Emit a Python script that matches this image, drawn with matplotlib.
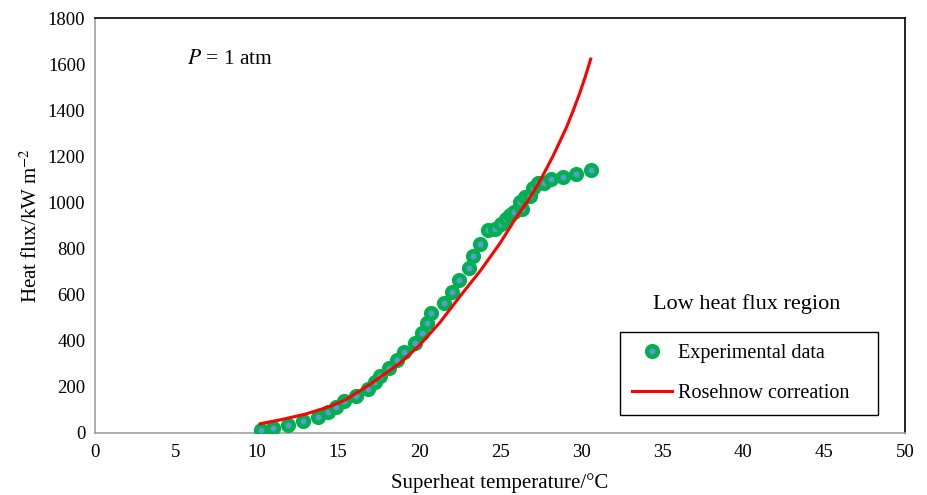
import matplotlib
matplotlib.use("Agg")
import matplotlib.pyplot as plt
from matplotlib.lines import Line2D

plt.rcParams['font.family'] = ['Liberation Serif', 'DejaVu Serif']
plt.rcParams['mathtext.fontset'] = 'stix'

# Experimental data
exp_T = [10.23, 11.0, 11.9, 12.86, 13.79, 14.4, 14.86, 15.39, 16.11, 16.83,
         17.28, 17.59, 18.15, 18.66, 19.09, 19.75, 20.17, 20.47, 20.74, 21.54,
         22.06, 22.49, 23.1, 23.35, 23.77, 24.24, 24.69, 25.06, 25.35, 25.62,
         25.88, 26.34, 26.23, 26.54, 26.85, 27.02, 27.37, 27.72, 28.13, 28.87,
         29.69, 30.6]
exp_q = [15, 23, 35, 52, 71, 91, 114, 140, 162, 189,
         222, 247, 281, 317, 353, 392, 432, 476, 519, 562,
         613, 663, 714, 768, 820, 880, 885, 906, 928, 945,
         960, 971, 1000, 1025, 1029, 1061, 1083, 1083, 1100, 1112,
         1125, 1141]

# Rohsenow correlation curve
corr_T = [10.2, 11.5, 13.0, 14.5, 15.5, 17.0, 18.8, 20.0, 21.3, 22.5,
          23.8, 25.0, 26.0, 26.8, 27.5, 28.3, 29.1, 29.5, 29.9, 30.25, 30.6]
corr_q = [40, 58, 82, 115, 145, 212, 302, 378, 480, 590,
          705, 823, 935, 1015, 1097, 1205, 1325, 1395, 1470, 1542, 1622]

fig = plt.figure(figsize=(9.28, 4.95), dpi=100)
ax = fig.add_axes([0.1024, 0.1253, 0.8728, 0.8383])

green = '#00B050'
blue = '#5B9BD5'
ms, mew = 7.6, 3.3
ax.plot(exp_T, exp_q, linestyle='none', marker='o', markersize=ms,
        markerfacecolor=blue, markeredgecolor=green, markeredgewidth=mew,
        zorder=3)
ax.plot(corr_T, corr_q, color='#FF0000', linewidth=2.2, zorder=4)

ax.set_xlim(0, 50)
ax.set_ylim(0, 1800)
ax.set_xticks(range(0, 51, 5))
ax.set_yticks(range(0, 1801, 200))
ax.tick_params(length=0, labelsize=13.5)
ax.tick_params(axis='x', pad=8)
ax.tick_params(axis='y', pad=7)

for s in ['left', 'bottom']:
    ax.spines[s].set_color('#A0A0A0')
    ax.spines[s].set_linewidth(1.2)
for s in ['top', 'right']:
    ax.spines[s].set_color('black')
    ax.spines[s].set_linewidth(1.2)

ax.set_xlabel('Superheat temperature/°C', fontsize=15, labelpad=9)
ax.set_ylabel('Heat flux/kW m$^{-2}$', fontsize=15, labelpad=4)

ax.text(5.7, 1618, '$P$ = 1 atm', fontsize=15.5, va='center', ha='left')
ax.text(0.805, 0.31, 'Low heat flux region', transform=ax.transAxes,
        fontsize=16, ha='center', va='center')

handles = [
    Line2D([], [], linestyle='none', marker='o', markersize=ms,
           markerfacecolor=blue, markeredgecolor=green, markeredgewidth=mew),
    Line2D([], [], color='#FF0000', linewidth=2.2),
]
leg = ax.legend(handles, ['Experimental data', 'Rosehnow correation'],
                loc='lower left', bbox_to_anchor=(0.648, 0.043, 0.319, 0.193),
                mode='expand', borderaxespad=0, fontsize=14.5, frameon=True,
                fancybox=False, edgecolor='black', framealpha=1, borderpad=0.6,
                labelspacing=1.05, handlelength=2.0, handletextpad=0.3)
leg.get_frame().set_linewidth(1.0)

fig.savefig('out.png', dpi=100)
